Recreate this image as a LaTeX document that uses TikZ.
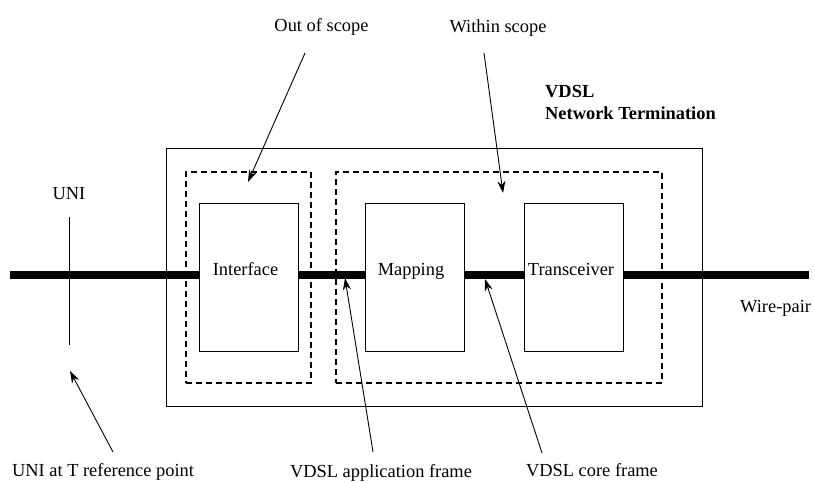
\documentclass[tikz,border=0pt]{standalone}
\usepackage{fontspec}
\setmainfont{Liberation Serif}
\usetikzlibrary{arrows.meta}
\begin{document}
\begin{tikzpicture}[x=1pt,y=-1pt,
  every node/.style={font=\rmfamily\fontsize{18.4}{22}\selectfont, inner sep=0pt},
  framebox/.style={draw, line width=1pt, rectangle, fill=none},
  scopebox/.style={draw, line width=1.6pt, dash pattern=on 6pt off 4pt, rectangle},
  blockbox/.style={draw, line width=1pt, rectangle, minimum width=99pt, minimum height=148pt},
  lbl/.style={anchor=base},
  wire/.style={line width=7.5pt},
  pointer/.style={line width=0.9pt, -{Stealth[length=12pt,width=8pt]}}
]
\useasboundingbox (0,0) rectangle (814,482);

% frames
\node[framebox, minimum width=536pt, minimum height=258pt] (nt) at (434,277) {};
\node[scopebox, minimum width=125pt, minimum height=211pt] (oos) at (248.5,277.5) {};
\node[scopebox, minimum width=326pt, minimum height=211pt] (wis) at (499,277.5) {};

% blocks
\node[blockbox] (iface) at (248.5,277) {};
\node[blockbox] (map) at (414.5,277) {};
\node[blockbox] (trx) at (573.5,277) {};

% block labels
\node[lbl] (ifacet) at (245.5,275) {Interface};
\node[lbl] (mapt) at (411,275) {Mapping};
\node[lbl] (trxt) at (571,275) {Transceiver};

% wire
\coordinate (wl) at (10,275);
\coordinate (wr) at (809,275);
\draw[wire] (wl) -- (wl -| iface.west);
\draw[wire] (iface.east |- wl) -- (map.west |- wl);
\draw[wire] (map.east |- wl) -- (trx.west |- wl);
\draw[wire] (trx.east |- wl) -- (wr);

% UNI
\node[lbl] (unit) at (69,199) {UNI};
\coordinate (unitop) at (69,217);
\coordinate (unibot) at (69,345);
\draw[line width=1pt] (unitop) -- (unibot);

% other texts
\node[lbl] (oost) at (321.5,31) {Out of scope};
\node[lbl] (wist) at (498,32) {Within scope};
\node[anchor=base west, font=\rmfamily\fontsize{18.4}{22}\selectfont\bfseries] (ntt) at (545,97) {VDSL};
\node[anchor=base west, font=\rmfamily\fontsize{18.4}{22}\selectfont\bfseries] (ntt2) at (545,119) {Network Termination};
\node[anchor=base west] (wpt) at (740,312) {Wire-pair};
\node[lbl] (unirt) at (103,476) {UNI at T reference point};
\node[lbl] (aft) at (381,477) {VDSL application frame};
\node[lbl] (cft) at (592,476) {VDSL core frame};

% pointers
\coordinate (p1s) at (305,53);   \coordinate (p1e) at (248,182);
\coordinate (p2s) at (484,53);   \coordinate (p2e) at (503,193);
\coordinate (p3s) at (113,452);  \coordinate (p3e) at (70,371);
\coordinate (p4s) at (373,452);  \coordinate (p4e) at (345,278);
\coordinate (p5s) at (542,453);  \coordinate (p5e) at (485,279);
\draw[pointer] (p1s) -- (p1e);
\draw[pointer] (p2s) -- (p2e);
\draw[pointer] (p3s) -- (p3e);
\draw[pointer] (p4s) -- (p4e);
\draw[pointer] (p5s) -- (p5e);
\end{tikzpicture}
\end{document}
